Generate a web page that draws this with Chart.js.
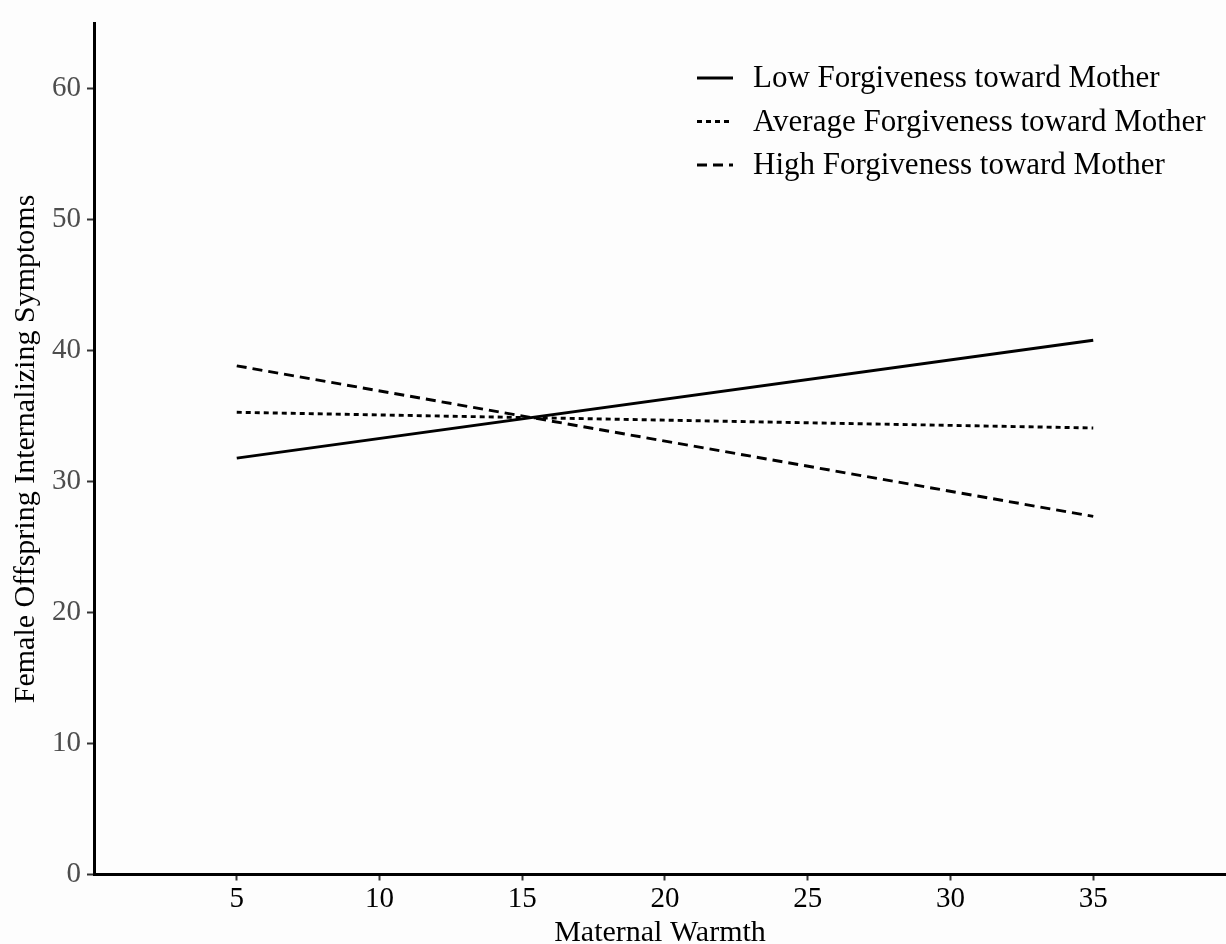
<!DOCTYPE html>
<html>
<head>
<meta charset="utf-8">
<script src="https://cdn.jsdelivr.net/npm/chart.js@4"></script>
<style>
  html, body { margin: 0; padding: 0; background: #fdfdfd; }
  #wrap { width: 1226px; height: 944px; }
</style>
</head>
<body>
<div id="wrap"><canvas id="main-chart"></canvas></div>
<script>
// data
const warmth = [5, 35];
const lowForgiveness = [31.8, 40.8];
const avgForgiveness = [35.3, 34.1];
const highForgiveness = [38.85, 27.35];
const seriesLabels = [
    'Low Forgiveness toward Mother',
    'Average Forgiveness toward Mother',
    'High Forgiveness toward Mother'
];
const xTicks = [5, 10, 15, 20, 25, 30, 35];
const yTicks = [0, 10, 20, 30, 40, 50, 60];

const SERIF = '"Liberation Serif", "Times New Roman", serif';

const toPoints = (ys) => warmth.map((x, i) => ({ x: x, y: ys[i] }));

// legend drawn by hand, top right inside the plot
const legendPlugin = {
    id: 'manualLegend',
    afterDraw(chart) {
        const ctx = chart.ctx;
        ctx.save();
        ctx.font = '31px ' + SERIF;
        ctx.textBaseline = 'middle';
        ctx.fillStyle = '#000';
        chart.data.datasets.forEach((ds, i) => {
            const y = 78 + i * 43.5;
            ctx.strokeStyle = '#000';
            ctx.lineWidth = 3;
            ctx.setLineDash(ds.borderDash || []);
            ctx.beginPath();
            ctx.moveTo(697, y);
            ctx.lineTo(733, y);
            ctx.stroke();
            ctx.setLineDash([]);
            ctx.fillText(ds.label, 753, y + 1);
        });
        ctx.restore();
    }
};

const bgPlugin = {
    id: 'bg',
    beforeDraw(chart) {
        const ctx = chart.ctx;
        ctx.save();
        ctx.fillStyle = '#fdfdfd';
        ctx.fillRect(0, 0, chart.width, chart.height);
        ctx.restore();
    }
};

const lineStyle = {
    borderColor: '#000',
    borderWidth: 2.9,
    pointRadius: 0,
    fill: false,
    tension: 0
};

const ctx = document.getElementById('main-chart').getContext('2d');
new Chart(ctx, {
    type: 'line',
    data: {
        datasets: [
            Object.assign({ label: seriesLabels[0], data: toPoints(lowForgiveness), borderDash: [] }, lineStyle),
            Object.assign({ label: seriesLabels[1], data: toPoints(avgForgiveness), borderDash: [5, 4] }, lineStyle),
            Object.assign({ label: seriesLabels[2], data: toPoints(highForgiveness), borderDash: [10, 6] }, lineStyle)
        ]
    },
    options: {
        responsive: true,
        maintainAspectRatio: false,
        animation: false,
        layout: { padding: { top: 19, right: 0, bottom: 0, left: 0 } },
        plugins: {
            legend: { display: false },
            tooltip: { enabled: false }
        },
        scales: {
            x: {
                type: 'linear',
                min: 0,
                max: 39.65,
                afterBuildTicks: (scale) => { scale.ticks = xTicks.map(v => ({ value: v })); },
                afterFit: (scale) => { scale.height = 69.5; },
                border: { display: true, color: '#000', width: 3 },
                grid: { display: true, drawOnChartArea: false, drawTicks: true, tickLength: 6, tickWidth: 2, color: '#333' },
                ticks: {
                    color: '#000',
                    padding: 1,
                    maxRotation: 0,
                    font: { family: SERIF, size: 29 }
                },
                title: {
                    display: true,
                    text: 'Maternal Warmth',
                    color: '#000',
                    padding: { top: 0, bottom: 0 },
                    font: { family: SERIF, size: 30, lineHeight: 0.75 }
                }
            },
            y: {
                min: 0,
                max: 65,
                afterBuildTicks: (scale) => { scale.ticks = yTicks.map(v => ({ value: v })); },
                afterFit: (scale) => { scale.width = 94; },
                border: { display: true, color: '#000', width: 3 },
                grid: { display: true, drawOnChartArea: false, drawTicks: true, tickLength: 7, tickWidth: 2, color: '#333' },
                ticks: {
                    color: '#4d4d4d',
                    padding: 6,
                    font: { family: SERIF, size: 29 }
                },
                title: {
                    display: true,
                    text: 'Female Offspring Internalizing Symptoms',
                    color: '#000',
                    padding: { top: 13, bottom: 0 },
                    font: { family: SERIF, size: 30, lineHeight: 0.85 }
                }
            }
        }
    },
    plugins: [bgPlugin, legendPlugin]
});
</script>
</body>
</html>
